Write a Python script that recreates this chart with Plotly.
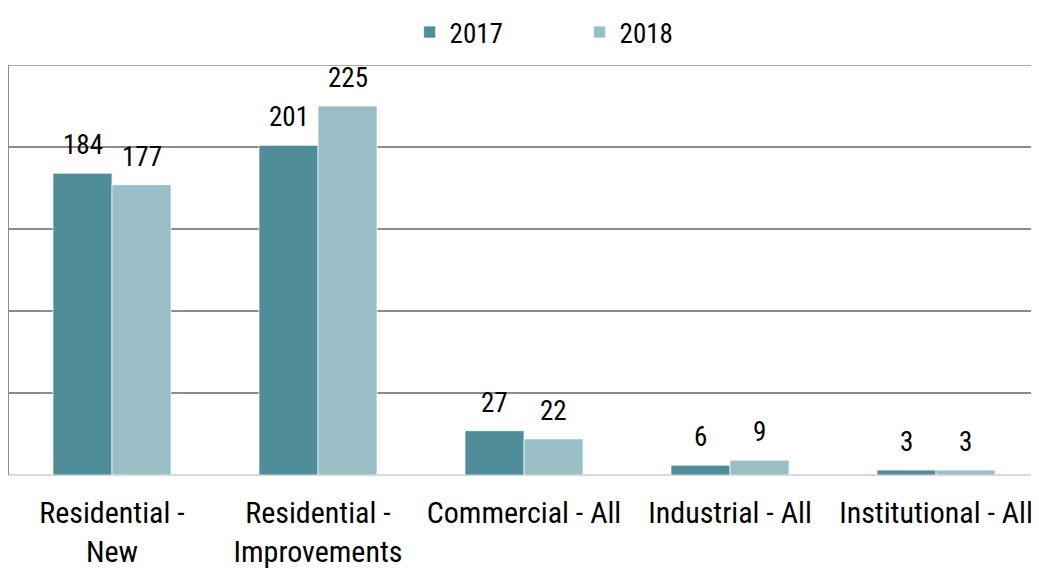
import plotly.graph_objects as go

categories = ["Residential -<br>New", "Residential -<br>Improvements", "Commercial - All",
              "Industrial - All", "Institutional - All"]
series_names = ["2017", "2018"]
values_2017 = [184, 201, 27, 6, 3]
values_2018 = [177, 225, 22, 9, 3]
colors = ["#4F8E98", "#9ABEC5"]

FONT = "Roboto Condensed, Liberation Sans Narrow, Arial Narrow, Roboto, sans-serif"

fig = go.Figure()
for name, vals, col in zip(series_names, [values_2017, values_2018], colors):
    fig.add_trace(go.Bar(
        x=categories, y=vals, name=name,
        marker=dict(color=col, line=dict(color="rgba(255,255,255,0.7)", width=1)),
    ))

shifts = [-29.5, 29.5]
for vals, xs in zip([values_2017, values_2018], shifts):
    for c, v in zip(categories, vals):
        fig.add_annotation(x=c, y=v, text=str(v), showarrow=False, xshift=xs,
                           yanchor="bottom", yshift=10,
                           font=dict(family=FONT, size=27, color="#000"))

fig.add_shape(type="line", xref="paper", x0=0, x1=1, yref="y", y0=250, y1=250,
              line=dict(color="#8C8C8C", width=1.5), layer="below")

fig.update_layout(
    width=1039, height=569,
    margin=dict(l=1, r=8, t=57, b=102),
    paper_bgcolor="white", plot_bgcolor="white",
    barmode="group", bargap=0.427, bargroupgap=0,
    font=dict(family=FONT, size=27, color="#000"),
    showlegend=True,
    legend=dict(orientation="h", x=0.554, xanchor="center", y=1.0, yanchor="top",
                yref="container", font=dict(size=27), entrywidth=125,
                bgcolor="rgba(0,0,0,0)"),
)
fig.update_xaxes(showline=False, ticks="outside", ticklen=11, tickcolor="rgba(0,0,0,0)",
                 tickfont=dict(size=30), tickangle=0, automargin=False)
fig.update_yaxes(range=[0, 250], dtick=50, showticklabels=False, automargin=False,
                 showgrid=True, gridcolor="#8C8C8C", gridwidth=1.5,
                 zeroline=True, zerolinecolor="#D9D9D9", zerolinewidth=2,
                 showline=True, linecolor="#8C8C8C", linewidth=1.5)

fig.write_html("out.html")
